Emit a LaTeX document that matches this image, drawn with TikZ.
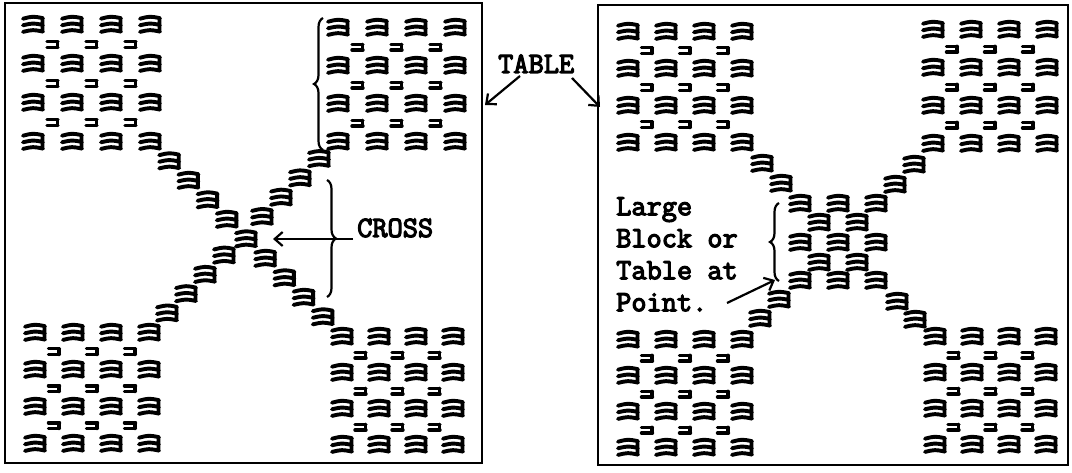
\documentclass[tikz,border=0pt]{standalone}
\usepackage{fontspec}
\newfontfamily\typew{Latin Modern Mono}[FakeBold=4]
\usetikzlibrary{arrows.meta,decorations.pathreplacing}
\newcommand\bookcluster[4]{%
  \foreach \i in {0,...,3}{\foreach \j in {0,...,3}{\pic at ({#1+\i*#3},{#2+\j*#4}) {stk};}}%
  \foreach \i in {0,...,2}{\foreach \j in {0,...,2}{\pic at ({#1+(\i+0.5)*#3},{#2+(\j+0.5)*#4}) {sml};}}%
}
\begin{document}
\begin{tikzpicture}[x=1pt,y=-1pt,
  ink/.style={line width=3.9pt, line cap=round},
  frame/.style={line width=2.6pt},
  lbl/.style={font=\typew\fontsize{29.5}{32}\selectfont, align=left, inner sep=0pt},
  conn/.style={line width=2.2pt, -{Straight Barb[length=8pt,width=14pt,line width=2.2pt]}},
  brc/.style={line width=2.2pt, decorate, decoration={brace,amplitude=9pt}},
  stk/.pic={\draw[ink] (-10,-6.3) .. controls (0,-8.8) .. (10,-6.8) (-10,0.3) .. controls (0,-2) .. (10,0) (-10,6.9) .. controls (0,4.6) .. (10,6.6) (9.5,-6.8) -- (9.5,6.6);},
  sml/.pic={\draw[line width=3.4pt,line cap=round] (-5.5,-2.7) -- (5.5,-2.7) (-5.5,3) -- (5.5,3) (5,-2.7) -- (5,3);}
]
\useasboundingbox (0,0) rectangle (1072,473);
% tables
\draw[frame] (5,3) rectangle (482,463);
\draw[frame] (598,5) rectangle (1068,465);
% left table clusters
\bookcluster{33}{25}{39}{39}
\bookcluster{338}{28}{39}{38}
\bookcluster{35}{333}{38}{37}
\bookcluster{342}{337}{37}{36}
% left cross
\foreach \k in {1,...,9} \pic at ({150+\k*19.2},{142+\k*19.5}) {stk};
\foreach \k in {1,2,3,4,6,7,8,9} \pic at ({338-\k*19},{140+\k*19.3}) {stk};
% right table clusters
\bookcluster{628}{32}{38}{37}
\bookcluster{933}{30}{38}{38}
\bookcluster{628}{340}{38}{36}
\bookcluster{935}{337}{37}{36}
% right cross arms
\foreach \p in {(762,164),(781,184),(914,165),(895,185),(779,300),(760,319),(897,302),(915,320)} \pic at \p {stk};
% large block
\foreach \x in {800,838,876}{\foreach \y in {204,243,281}{\pic at (\x,\y) {stk};}}
\foreach \x in {819,857}{\foreach \y in {223,263}{\pic at (\x,\y) {stk};}}
% labels
\node[lbl, anchor=base west] (table) at (498,73) {TABLE};
\node[lbl, anchor=base west] (cross) at (357,237) {CROSS};
\node[lbl, anchor=north west] (large) at (616,197) {Large\\Block or\\Table at\\Point.};
% braces
\draw[brc] (323,150) -- (323,18);
\draw[brc] (327,180) -- (327,297);
\draw[brc] (779,281) -- (779,203);
% connectors
\coordinate (t1) at (485,105);
\coordinate (t2) at (600,107);
\coordinate (cr) at (273,239);
\coordinate (lb) at (775,280);
\draw[conn] (520,76) -- (t1);
\draw[conn] (572,78) -- (t2);
\draw[conn] (353,239) -- (cr);
\draw[conn] (727,303) -- (lb);
\end{tikzpicture}
\end{document}
